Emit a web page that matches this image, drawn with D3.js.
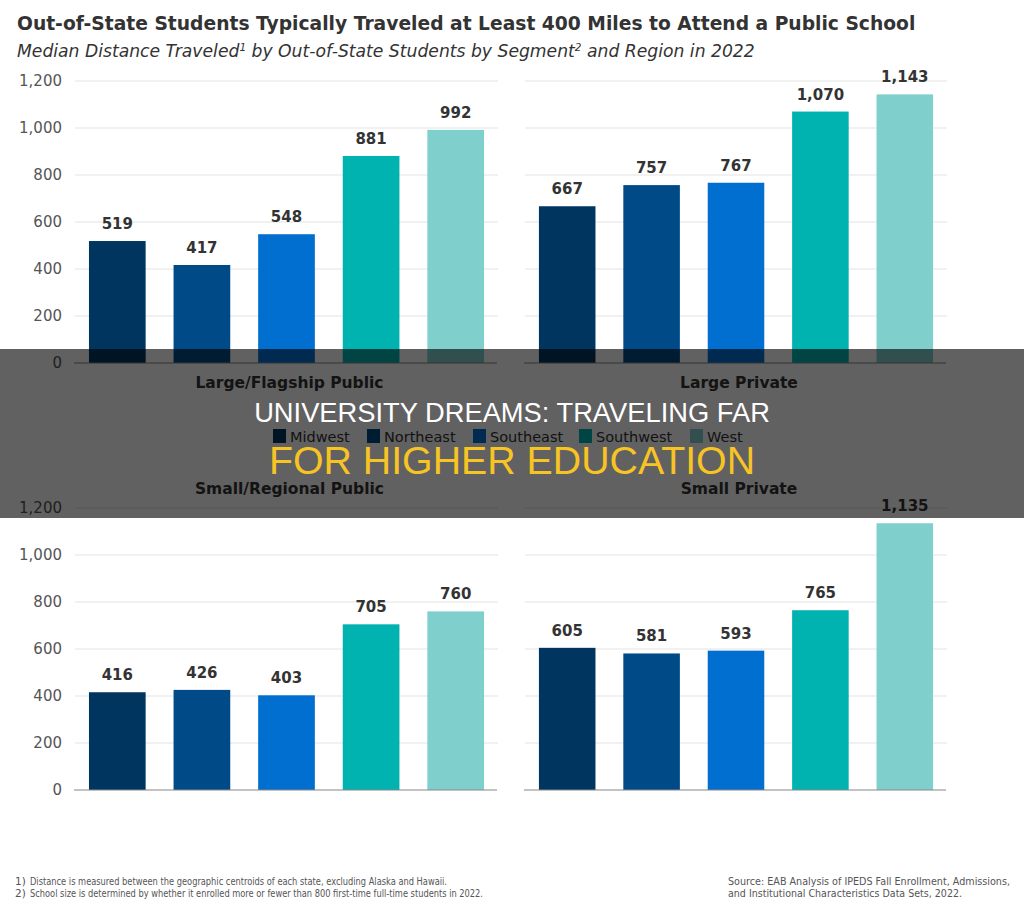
<!DOCTYPE html>
<html lang="en">
<head>
<meta charset="UTF-8" />
<title>Out-of-State Students</title>
<style>
  body { margin: 0; background: #fff; }
  svg { display: block; }
</style>
</head>
<body>
<svg width="1024" height="912" id="mainsvg"></svg>
<script src="https://cdn.jsdelivr.net/npm/d3@7"></script>
<script>
const svg = d3.select("#mainsvg")

const regions = ["Midwest", "Northeast", "Southeast", "Southwest", "West"]
const colors = ["#00355f", "#004a87", "#006fcf", "#00b2b0", "#7fcfcd"]
const segments = ["Large/Flagship Public", "Large Private", "Small/Regional Public", "Small Private"]
const largeFlagship = [519, 417, 548, 881, 992]
const largePrivate = [667, 757, 767, 1070, 1143]
const smallRegional = [416, 426, 403, 705, 760]
const smallPrivate = [605, 581, 593, 765, 1135]
const yTicks = [0, 200, 400, 600, 800, 1000, 1200]

const font = "'DejaVu Sans', Verdana, sans-serif"

// panel boxes: x range and y range
const panels = [
  { name: segments[0], values: largeFlagship, x: [75, 498], y: [363, 81], labels: true, titleY: 388 },
  { name: segments[1], values: largePrivate, x: [525, 947], y: [363, 81], labels: false, titleY: 388 },
  { name: segments[2], values: smallRegional, x: [75, 498], y: [790, 508], labels: true, titleY: 494 },
  { name: segments[3], values: smallPrivate, x: [525, 947], y: [790, 508], labels: false, titleY: 494 },
]

const color = d3.scaleOrdinal().domain(regions).range(colors)

// title + subtitle
svg.append("text")
  .attr("x", 17).attr("y", 30)
  .attr("font-family", font).attr("font-weight", "bold").attr("font-size", 18.7)
  .attr("fill", "#333")
  .text("Out-of-State Students Typically Traveled at Least 400 Miles to Attend a Public School")

const sub = svg.append("text")
  .attr("x", 17).attr("y", 57)
  .attr("font-family", font).attr("font-style", "italic").attr("font-size", 17.2)
  .attr("fill", "#333")
sub.append("tspan").text("Median Distance Traveled")
sub.append("tspan").attr("font-size", 10.5).attr("dy", -6).text("1")
sub.append("tspan").attr("dy", 6).text(" by Out-of-State Students by Segment")
sub.append("tspan").attr("font-size", 10.5).attr("dy", -6).text("2")
sub.append("tspan").attr("dy", 6).text(" and Region in 2022")

panels.forEach((p) => {
  const x = d3.scaleBand().domain(regions).range(p.x).paddingInner(0.33).paddingOuter(0.165)
  const y = d3.scaleLinear().domain([0, 1200]).range(p.y)
  const g = svg.append("g")

  // gridlines
  g.selectAll("line.grid")
    .data(yTicks.slice(1))
    .join("line")
    .attr("class", "grid")
    .attr("x1", p.x[0]).attr("x2", p.x[1])
    .attr("y1", (d) => y(d)).attr("y2", (d) => y(d))
    .attr("stroke", "#e3e3e3").attr("stroke-width", 1)

  if (p.labels) {
    const axis = d3.axisLeft(y).tickValues(yTicks).tickSize(0).tickPadding(0).tickFormat(d3.format(","))
    const ag = g.append("g").attr("transform", `translate(${p.x[0] - 13},0)`).call(axis)
    ag.select(".domain").remove()
    ag.selectAll("text")
      .attr("font-family", font).attr("font-size", 15).attr("fill", "#555")
  }

  const data = regions.map((r, i) => ({ region: r, value: p.values[i] }))

  g.selectAll("rect")
    .data(data)
    .join("rect")
    .attr("x", (d) => x(d.region))
    .attr("width", x.bandwidth())
    .attr("y", (d) => y(d.value))
    .attr("height", (d) => y(0) - y(d.value))
    .attr("fill", (d) => color(d.region))

  g.selectAll("text.val")
    .data(data)
    .join("text")
    .attr("class", "val")
    .attr("x", (d) => x(d.region) + x.bandwidth() / 2)
    .attr("y", (d) => y(d.value) - 12)
    .attr("text-anchor", "middle")
    .attr("font-family", font).attr("font-weight", "bold").attr("font-size", 15)
    .attr("fill", "#333")
    .text((d) => d3.format(",")(d.value))

  // baseline
  g.append("line")
    .attr("x1", p.x[0] - 1).attr("x2", p.x[1] - 1)
    .attr("y1", y(0)).attr("y2", y(0))
    .attr("stroke", "#888").attr("stroke-width", 1.2)

  g.append("text")
    .attr("x", (p.x[0] + p.x[1]) / 2 + 3).attr("y", p.titleY)
    .attr("text-anchor", "middle")
    .attr("font-family", font).attr("font-weight", "bold").attr("font-size", 15.5)
    .attr("fill", "#333")
    .text(p.name)
})

// legend
const legendX = [273, 367, 473, 579, 690]
const lg = svg.selectAll("g.legend")
  .data(regions)
  .join("g")
  .attr("class", "legend")
  .attr("transform", (d, i) => `translate(${legendX[i]},429)`)
lg.append("rect").attr("width", 13).attr("height", 14).attr("fill", (d) => color(d))
lg.append("text")
  .attr("x", 17).attr("y", 12.5)
  .attr("font-family", font).attr("font-size", 14.5).attr("fill", "#333")
  .text((d) => d)

// footnotes
const notes = [
  "Distance is measured between the geographic centroids of each state, excluding Alaska and Hawaii.",
  "School size is determined by whether it enrolled more or fewer than 800 first-time full-time students in 2022.",
]
const noteLen = [417, 453]
notes.forEach((n, i) => {
  svg.append("text").attr("x", 15).attr("y", 885 + i * 12)
    .attr("font-family", font).attr("font-size", 10.5).attr("fill", "#555")
    .text(`${i + 1})`)
  svg.append("text").attr("x", 30).attr("y", 885 + i * 12)
    .attr("font-family", font).attr("font-size", 10.5).attr("fill", "#555")
    .attr("textLength", noteLen[i]).attr("lengthAdjust", "spacingAndGlyphs")
    .text(n)
})
const source = [
  "Source: EAB Analysis of IPEDS Fall Enrollment, Admissions,",
  "and Institutional Characteristics Data Sets, 2022.",
]
const sourceLen = [282, 234]
source.forEach((s, i) => {
  svg.append("text").attr("x", 728).attr("y", 885 + i * 12)
    .attr("font-family", font).attr("font-size", 10.5).attr("fill", "#555")
    .attr("textLength", sourceLen[i]).attr("lengthAdjust", "spacingAndGlyphs")
    .text(s)
})

// dark banner overlay
svg.append("rect")
  .attr("x", 0).attr("y", 349).attr("width", 1024).attr("height", 169)
  .attr("fill", "rgba(0,0,0,0.62)")

svg.append("text")
  .attr("x", 512).attr("y", 422).attr("text-anchor", "middle")
  .attr("font-family", "'Liberation Sans', Arial, sans-serif").attr("font-size", 27.3)
  .attr("fill", "#fff")
  .text("UNIVERSITY DREAMS: TRAVELING FAR")

svg.append("text")
  .attr("x", 512).attr("y", 474).attr("text-anchor", "middle")
  .attr("font-family", "'Liberation Sans', Arial, sans-serif").attr("font-size", 39.3)
  .attr("fill", "#f7c424")
  .text("FOR HIGHER EDUCATION")
</script>
</body>
</html>
